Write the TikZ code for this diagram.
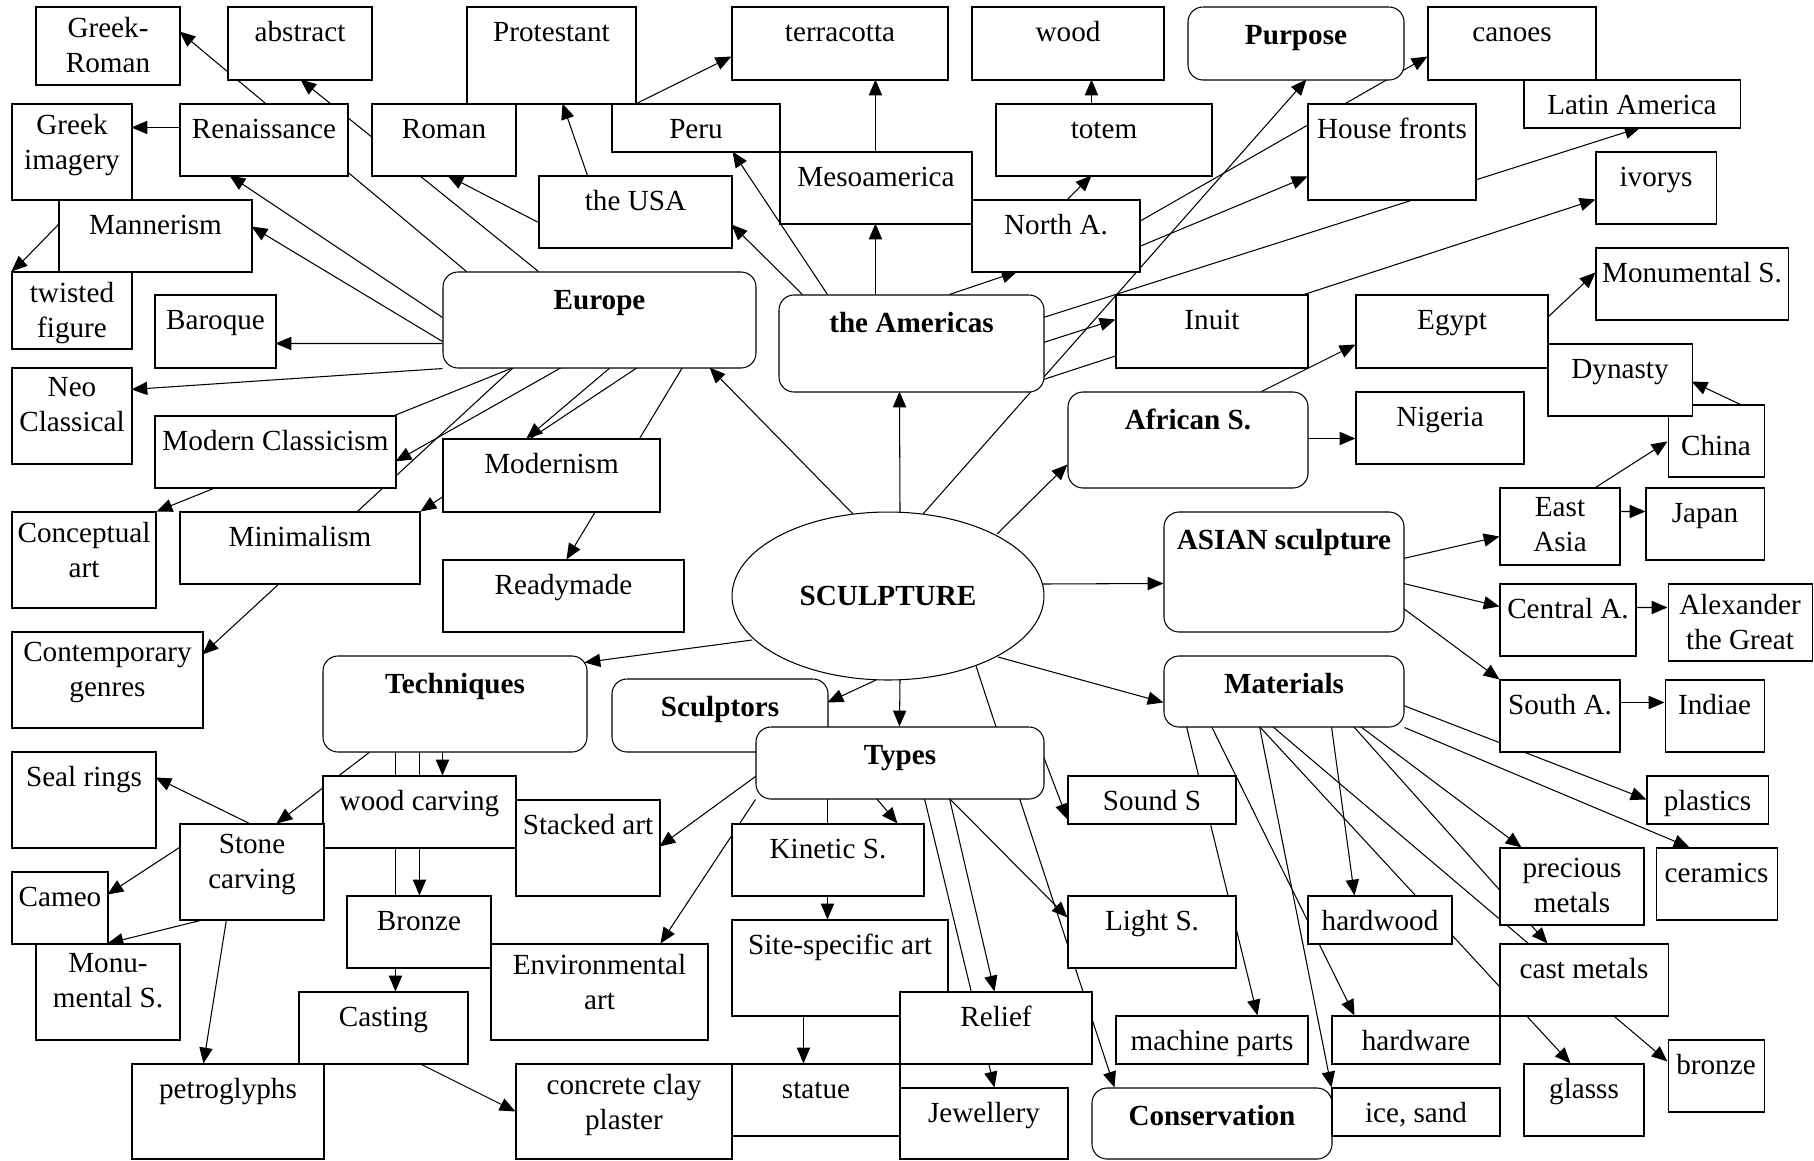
\documentclass[tikz,border=0pt]{standalone}
\usepackage{fontspec}
\setmainfont{Liberation Serif}
\usetikzlibrary{arrows.meta,calc,fit,shapes.geometric}
\pgfdeclarelayer{hinten}
\pgfsetlayers{hinten,main}

\begin{document}
\begin{tikzpicture}[x=0.02cm, y=-0.02cm,
    kasten/.style={draw, fill=white, line width=0.6pt, inner sep=0pt},
    rkasten/.style={kasten, rounded corners=0.3cm},
    txtbasis/.style={anchor=north, inner sep=0pt, align=center, execute at begin node=\strut},
    txt/.style={txtbasis, yshift=-0.2cm, font=\fontsize{16.6}{19.9}\selectfont},
    btxt/.style={txtbasis, yshift=-0.27cm, font=\fontsize{16.6}{19.9}\selectfont\bfseries},
    pfeil/.style={-{Triangle[length=9pt,width=7.5pt]}, line width=0.6pt}]
\useasboundingbox (0,0) rectangle (1814,1160);

% Mitte:
\node[kasten, ellipse, minimum width=6.24cm, minimum height=3.36cm,
      font=\fontsize{16.6}{19.9}\selectfont\bfseries] (sculpture) at (888,596) {SCULPTURE};

% Oberbegriffe (abgerundet):
\node[rkasten, fit={(443,272) (756,368)}, label={[btxt]north:{Europe}}] (europe) {};
\node[rkasten, fit={(779,295) (1044,392)}, label={[btxt]north:{the Americas}}] (americas) {};
\node[rkasten, fit={(1188,7) (1404,80)}, label={[btxt]north:{Purpose}}] (purpose) {};
\node[rkasten, fit={(1068,392) (1308,488)}, label={[btxt]north:{African S.}}] (african) {};
\node[rkasten, fit={(1164,512) (1404,632)}, label={[btxt]north:{ASIAN sculpture}}] (asian) {};
\node[rkasten, fit={(323,656) (587,752)}, label={[btxt]north:{Techniques}}] (techniques) {};
\node[rkasten, fit={(612,679) (828,752)}, label={[btxt]north:{Sculptors}}] (sculptors) {};
\node[rkasten, fit={(1164,656) (1404,727)}, label={[btxt]north:{Materials}}] (materials) {};
\node[rkasten, fit={(756,727) (1044,799)}, label={[btxt]north:{Types}}] (types) {};
\node[rkasten, fit={(1092,1088) (1332,1159)}, label={[btxt]north:{Conservation}}] (conservation) {};

% obere Reihe:
\node[kasten, fit={(36,7) (180,85)}, label={[txt]north:{Greek-\\Roman}}] (greekroman) {};
\node[kasten, fit={(228,7) (372,80)}, label={[txt]north:{abstract}}] (abstract) {};
\node[kasten, fit={(467,7) (636,104)}, label={[txt]north:{Protestant}}] (protestant) {};
\node[kasten, fit={(732,7) (948,80)}, label={[txt]north:{terracotta}}] (terracotta) {};
\node[kasten, fit={(972,7) (1164,80)}, label={[txt]north:{wood}}] (wood) {};
\node[kasten, fit={(1428,7) (1596,80)}, label={[txt]north:{canoes}}] (canoes) {};
\node[kasten, fit={(1524,80) (1740,128)}, label={[txt]north:{Latin America}}] (latin) {};
\node[kasten, fit={(12,104) (132,200)}, label={[txt]north:{Greek\\imagery}}] (greekimg) {};
\node[kasten, fit={(180,104) (348,176)}, label={[txt]north:{Renaissance}}] (renaissance) {};
\node[kasten, fit={(372,104) (516,176)}, label={[txt]north:{Roman}}] (roman) {};
\node[kasten, fit={(612,104) (780,152)}, label={[txt]north:{Peru}}] (peru) {};
\node[kasten, fit={(996,104) (1212,176)}, label={[txt]north:{totem}}] (totem) {};
\node[kasten, fit={(1308,104) (1476,200)}, label={[txt]north:{House fronts}}] (housefronts) {};
\node[kasten, fit={(539,176) (732,248)}, label={[txt]north:{the USA}}] (usa) {};
\node[kasten, fit={(780,152) (972,224)}, label={[txt]north:{Mesoamerica}}] (meso) {};
\node[kasten, fit={(1596,152) (1716,224)}, label={[txt]north:{ivorys}}] (ivorys) {};
\node[kasten, fit={(59,200) (252,272)}, label={[txt]north:{Mannerism}}] (mannerism) {};
\node[kasten, fit={(972,200) (1140,272)}, label={[txt]north:{North A.}}] (northa) {};
\node[kasten, fit={(1596,248) (1788,320)}, label={[txt]north:{Monumental S.}}] (monumental) {};
\node[kasten, fit={(12,272) (132,349)}, label={[txt]north:{twisted\\figure}}] (twisted) {};
\node[kasten, fit={(155,295) (276,368)}, label={[txt]north:{Baroque}}] (baroque) {};
\node[kasten, fit={(1116,295) (1308,368)}, label={[txt]north:{Inuit}}] (inuit) {};
\node[kasten, fit={(1356,295) (1548,368)}, label={[txt]north:{Egypt}}] (egypt) {};
\node[kasten, fit={(1668,405) (1764,477)}, label={[txt, yshift=-0.32cm]north:{China}}] (china) {};
\node[kasten, fit={(1548,344) (1692,416)}, label={[txt]north:{Dynasty}}] (dynasty) {};

% linke Seite:
\node[kasten, fit={(12,368) (132,464)}, label={[txt]north:{Neo\\Classical}}] (neo) {};
\node[kasten, fit={(155,416) (396,488)}, label={[txt]north:{Modern Classicism}}] (modclass) {};
\node[kasten, fit={(443,439) (660,512)}, label={[txt]north:{Modernism}}] (modernism) {};
\node[kasten, fit={(12,512) (156,608)}, label={[txt]north:{Conceptual\\art}}] (conceptual) {};
\node[kasten, fit={(180,512) (420,584)}, label={[txt]north:{Minimalism}}] (minimalism) {};
\node[kasten, fit={(443,560) (684,632)}, label={[txt]north:{Readymade}}] (readymade) {};
\node[kasten, fit={(12,632) (203,728)}, label={[txt]north:{Contemporary\\genres}}] (contemp) {};

% rechte Seite:
\node[kasten, fit={(1356,392) (1524,464)}, label={[txt]north:{Nigeria}}] (nigeria) {};
\node[kasten, fit={(1500,488) (1620,565)}, label={[txt]north:{East\\Asia}}] (eastasia) {};
\node[kasten, fit={(1646,488) (1764,560)}, label={[txt]north:{Japan}}] (japan) {};
\node[kasten, fit={(1500,584) (1636,656)}, label={[txt]north:{Central A.}}] (centrala) {};
\node[kasten, fit={(1668,584) (1812,661)}, label={[txt]north:{Alexander\\the Great}}] (alexander) {};
\node[kasten, fit={(1500,680) (1620,752)}, label={[txt]north:{South A.}}] (southa) {};
\node[kasten, fit={(1665,680) (1764,752)}, label={[txt]north:{Indiae}}] (indiae) {};

% untere Haelfte:
\node[kasten, fit={(12,752) (156,848)}, label={[txt]north:{Seal rings}}] (sealrings) {};
\node[kasten, fit={(323,776) (516,848)}, label={[txt]north:{wood carving}}] (woodcarving) {};
\node[kasten, fit={(1068,776) (1236,824)}, label={[txt]north:{Sound S}}] (sounds) {};
\node[kasten, fit={(1647,776) (1768,824)}, label={[txt]north:{plastics}}] (plastics) {};
\node[kasten, fit={(516,800) (660,896)}, label={[txt]north:{Stacked art}}] (stacked) {};
\node[kasten, fit={(180,824) (324,920)}, label={[txt]north:{Stone\\carving}}] (stone) {};
\node[kasten, fit={(732,824) (924,896)}, label={[txt]north:{Kinetic S.}}] (kinetic) {};
\node[kasten, fit={(1500,848) (1644,925)}, label={[txt]north:{precious\\metals}}] (precious) {};
\node[kasten, fit={(1656,848) (1777,920)}, label={[txt]north:{ceramics}}] (ceramics) {};
\node[kasten, fit={(12,872) (108,944)}, label={[txt]north:{Cameo}}] (cameo) {};
\node[kasten, fit={(347,896) (491,968)}, label={[txt]north:{Bronze}}] (bronzeT) {};
\node[kasten, fit={(1068,896) (1236,968)}, label={[txt]north:{Light S.}}] (lights) {};
\node[kasten, fit={(1308,896) (1452,944)}, label={[txt]north:{hardwood}}] (hardwood) {};
\node[kasten, fit={(36,944) (180,1040)}, label={[txt]north:{Monu-\\mental S.}}] (monu) {};
\node[kasten, fit={(491,944) (708,1040)}, label={[txt]north:{Environmental\\art}}] (environ) {};
\node[kasten, fit={(732,920) (948,1016)}, label={[txt]north:{Site-specific art}}] (sitespec) {};
\node[kasten, fit={(1500,944) (1668,1016)}, label={[txt]north:{cast metals}}] (castmetals) {};
\node[kasten, fit={(299,992) (468,1064)}, label={[txt]north:{Casting}}] (casting) {};
\node[kasten, fit={(900,992) (1092,1064)}, label={[txt]north:{Relief}}] (relief) {};
\node[kasten, fit={(1116,1016) (1308,1064)}, label={[txt]north:{machine parts}}] (machine) {};
\node[kasten, fit={(1332,1016) (1500,1064)}, label={[txt]north:{hardware}}] (hardware) {};
\node[kasten, fit={(1668,1040) (1764,1112)}, label={[txt]north:{bronze}}] (bronzeM) {};
\node[kasten, fit={(132,1064) (324,1159)}, label={[txt]north:{petroglyphs}}] (petro) {};
\node[kasten, fit={(516,1064) (732,1159)}, label={[txt]north:{concrete clay\\plaster}}] (concrete) {};
\node[kasten, fit={(732,1064) (900,1136)}, label={[txt]north:{statue}}] (statue) {};
\node[kasten, fit={(1524,1064) (1644,1136)}, label={[txt]north:{glasss}}] (glasss) {};
\node[kasten, fit={(900,1088) (1068,1159)}, label={[txt]north:{Jewellery}}] (jewellery) {};
\node[kasten, fit={(1332,1088) (1500,1136)}, label={[txt]north:{ice, sand}}] (icesand) {};

\begin{pgfonlayer}{hinten}
% von der Mitte aus:
\draw[pfeil] ($(sculpture.center)+(-35,-82)$) -- ($(europe.north west)+(267,96)$);
\draw[pfeil] ($(sculpture.center)+(12,-84)$) -- ($(americas.north west)+(121,97)$);
\draw[pfeil] ($(sculpture.center)+(35,-82)$) -- ($(purpose.north west)+(119,73)$);
\draw[pfeil] ($(sculpture.center)+(109,-62)$) -- ($(african.north west)+(0,73)$);
\draw[pfeil] ($(sculpture.center)+(154,-12)$) -- ($(asian.north west)+(0,72)$);
\draw[pfeil] ($(sculpture.center)+(110,61)$) -- ($(materials.north west)+(0,47)$);
\draw[pfeil] ($(sculpture.center)+(12,84)$) -- ($(types.north west)+(144,0)$);
\draw[pfeil] ($(sculpture.center)+(-12,84)$) -- ($(sculptors.north west)+(216,24)$);
\draw[pfeil] ($(sculpture.center)+(-136,44)$) -- ($(techniques.north west)+(262,7)$);
\draw[pfeil] ($(sculpture.center)+(88,70)$) -- ($(conservation.north west)+(23,0)$);

% Europa:
\draw[pfeil] ($(europe.north west)+(24,0)$) -- ($(greekroman.north west)+(144,25)$);
\draw[pfeil] ($(europe.north west)+(96,0)$) -- ($(abstract.north west)+(73,73)$);
\draw[pfeil] ($(europe.north west)+(0,46)$) -- ($(renaissance.north west)+(50,72)$);
\draw[pfeil] ($(europe.north west)+(0,70)$) -- ($(mannerism.north west)+(193,27)$);
\draw[pfeil] ($(europe.north west)+(0,72)$) -- ($(baroque.north west)+(121,49)$);
\draw[pfeil] (europe.south west) -- ($(neo.north west)+(120,22)$);
\draw[pfeil] ($(europe.north west)+(71,96)$) -- (conceptual.north east);
\draw[pfeil] ($(europe.north west)+(71,96)$) -- ($(contemp.north west)+(191,23)$);
\draw[pfeil] ($(europe.north west)+(119,96)$) -- ($(modclass.north west)+(241,46)$);
\draw[pfeil] ($(europe.north west)+(168,96)$) -- ($(modernism.north west)+(84,0)$);
\draw[pfeil] ($(europe.north west)+(195,96)$) -- (minimalism.north east);
\draw[pfeil] ($(europe.north west)+(240,96)$) -- ($(readymade.north west)+(124,0)$);
\draw[pfeil] ($(renaissance.north west)+(0,24)$) -- ($(greekimg.north west)+(120,24)$);
\draw[pfeil] ($(mannerism.north west)+(0,25)$) -- (twisted.north west);

% Amerika:
\draw[pfeil] ($(americas.north west)+(24,0)$) -- ($(usa.north west)+(193,49)$);
\draw[pfeil] ($(americas.north west)+(49,0)$) -- ($(peru.north west)+(121,48)$);
\draw[pfeil] ($(americas.north west)+(97,0)$) -- ($(meso.north west)+(96,72)$);
\draw[pfeil] ($(meso.north west)+(96,0)$) -- ($(terracotta.north west)+(144,73)$);
\draw[pfeil] ($(americas.north west)+(171,0)$) -- ($(northa.north west)+(46,72)$);
\draw[pfeil] ($(northa.north west)+(96,0)$) -- ($(totem.north west)+(96,72)$);
\draw[pfeil] ($(totem.north west)+(96,0)$) -- ($(wood.north west)+(120,73)$);
\draw[pfeil] ($(northa.north west)+(168,22)$) -- ($(canoes.north west)+(0,50)$);
\draw[pfeil] ($(northa.north west)+(168,47)$) -- ($(housefronts.north west)+(0,73)$);
\draw[pfeil] ($(americas.north west)+(265,23)$) -- ($(latin.north west)+(117,48)$);
\draw[pfeil] ($(americas.north west)+(265,85)$) -- ($(ivorys.north west)+(0,48)$);
\draw[pfeil] ($(americas.north west)+(265,48)$) -- ($(inuit.north west)+(0,25)$);
\draw[pfeil] ($(usa.north west)+(49,0)$) -- ($(protestant.north west)+(96,97)$);
\draw[pfeil] ($(usa.north west)+(0,47)$) -- ($(roman.north west)+(76,72)$);
\draw[pfeil] ($(peru.north west)+(25,0)$) -- ($(terracotta.north west)+(0,50)$);

% Afrika, Asien:
\draw[pfeil] ($(african.north west)+(194,0)$) -- ($(egypt.north west)+(0,50)$);
\draw[pfeil] ($(african.north west)+(240,47)$) -- ($(nigeria.north west)+(0,47)$);
\draw[pfeil] ($(egypt.north west)+(192,23)$) -- ($(monumental.north west)+(0,25)$);
\draw[pfeil] ($(china.north west)+(73,0)$) -- ($(dynasty.north west)+(144,38)$);
\draw[pfeil] ($(asian.north west)+(240,47)$) -- ($(eastasia.north west)+(0,49)$);
\draw[pfeil] ($(asian.north west)+(240,72)$) -- ($(centrala.north west)+(0,23)$);
\draw[pfeil] ($(asian.north west)+(240,97)$) -- (southa.north west);
\draw[pfeil] ($(eastasia.north west)+(96,0)$) -- ($(china.north west)+(0,37)$);
\draw[pfeil] ($(eastasia.north west)+(120,24)$) -- ($(japan.north west)+(0,24)$);
\draw[pfeil] ($(centrala.north west)+(136,24)$) -- ($(alexander.north west)+(0,24)$);
\draw[pfeil] ($(southa.north west)+(120,23)$) -- ($(indiae.north west)+(0,23)$);

% Materialien:
\draw[pfeil] ($(materials.north west)+(240,50)$) -- ($(plastics.north west)+(0,24)$);
\draw[pfeil] (materials.south east) -- ($(ceramics.north west)+(34,0)$);
\draw[pfeil] ($(materials.north west)+(190,71)$) -- ($(castmetals.north west)+(48,0)$);
\draw[pfeil] ($(materials.north west)+(197,71)$) -- ($(precious.north west)+(22,0)$);
\draw[pfeil] ($(materials.north west)+(168,71)$) -- ($(hardwood.north west)+(47,0)$);
\draw[pfeil] ($(materials.north west)+(96,71)$) -- (icesand.north west);
\draw[pfeil] ($(materials.north west)+(96,71)$) -- ($(glasss.north west)+(47,0)$);
\draw[pfeil] ($(materials.north west)+(109,71)$) -- ($(bronzeM.north west)+(0,22)$);
\draw[pfeil] ($(materials.north west)+(48,71)$) -- ($(hardware.north west)+(23,0)$);
\draw[pfeil] ($(materials.north west)+(23,71)$) -- ($(machine.north west)+(142,0)$);

% Typen:
\draw[pfeil] ($(types.north west)+(0,50)$) -- ($(stacked.north west)+(144,47)$);
\draw[pfeil] (types.south west) -- ($(environ.north west)+(170,0)$);
\draw[pfeil] ($(types.north west)+(121,72)$) -- ($(kinetic.north west)+(166,0)$);
\draw[pfeil] ($(types.north west)+(72,72)$) -- ($(sitespec.north west)+(96,0)$);
\draw[pfeil] ($(types.north west)+(288,30)$) -- ($(sounds.north west)+(0,44)$);
\draw[pfeil] ($(types.north west)+(194,72)$) -- ($(lights.north west)+(0,22)$);
\draw[pfeil] ($(types.north west)+(194,72)$) -- ($(relief.north west)+(95,0)$);
\draw[pfeil] ($(types.north west)+(169,72)$) -- ($(jewellery.north west)+(95,0)$);
\draw[pfeil] ($(sitespec.north west)+(72,96)$) -- ($(statue.north west)+(72,0)$);

% Techniken:
\draw[pfeil] ($(techniques.north west)+(48,96)$) -- ($(stone.north west)+(97,0)$);
\draw[pfeil] ($(techniques.north west)+(73,96)$) -- ($(casting.north west)+(97,0)$);
\draw[pfeil] ($(techniques.north west)+(97,96)$) -- ($(bronzeT.north west)+(73,0)$);
\draw[pfeil] ($(techniques.north west)+(120,96)$) -- ($(woodcarving.north west)+(120,0)$);
\draw[pfeil] ($(casting.north west)+(121,72)$) -- ($(concrete.north west)+(0,48)$);
\draw[pfeil] ($(stone.north west)+(70,0)$) -- ($(sealrings.north west)+(144,26)$);
\draw[pfeil] ($(stone.north west)+(0,24)$) -- ($(cameo.north west)+(96,23)$);
\draw[pfeil] ($(stone.north west)+(25,96)$) -- ($(monu.north west)+(72,0)$);
\draw[pfeil] ($(stone.north west)+(47,96)$) -- ($(petro.north west)+(72,0)$);
\end{pgfonlayer}
\end{tikzpicture}
\end{document}
